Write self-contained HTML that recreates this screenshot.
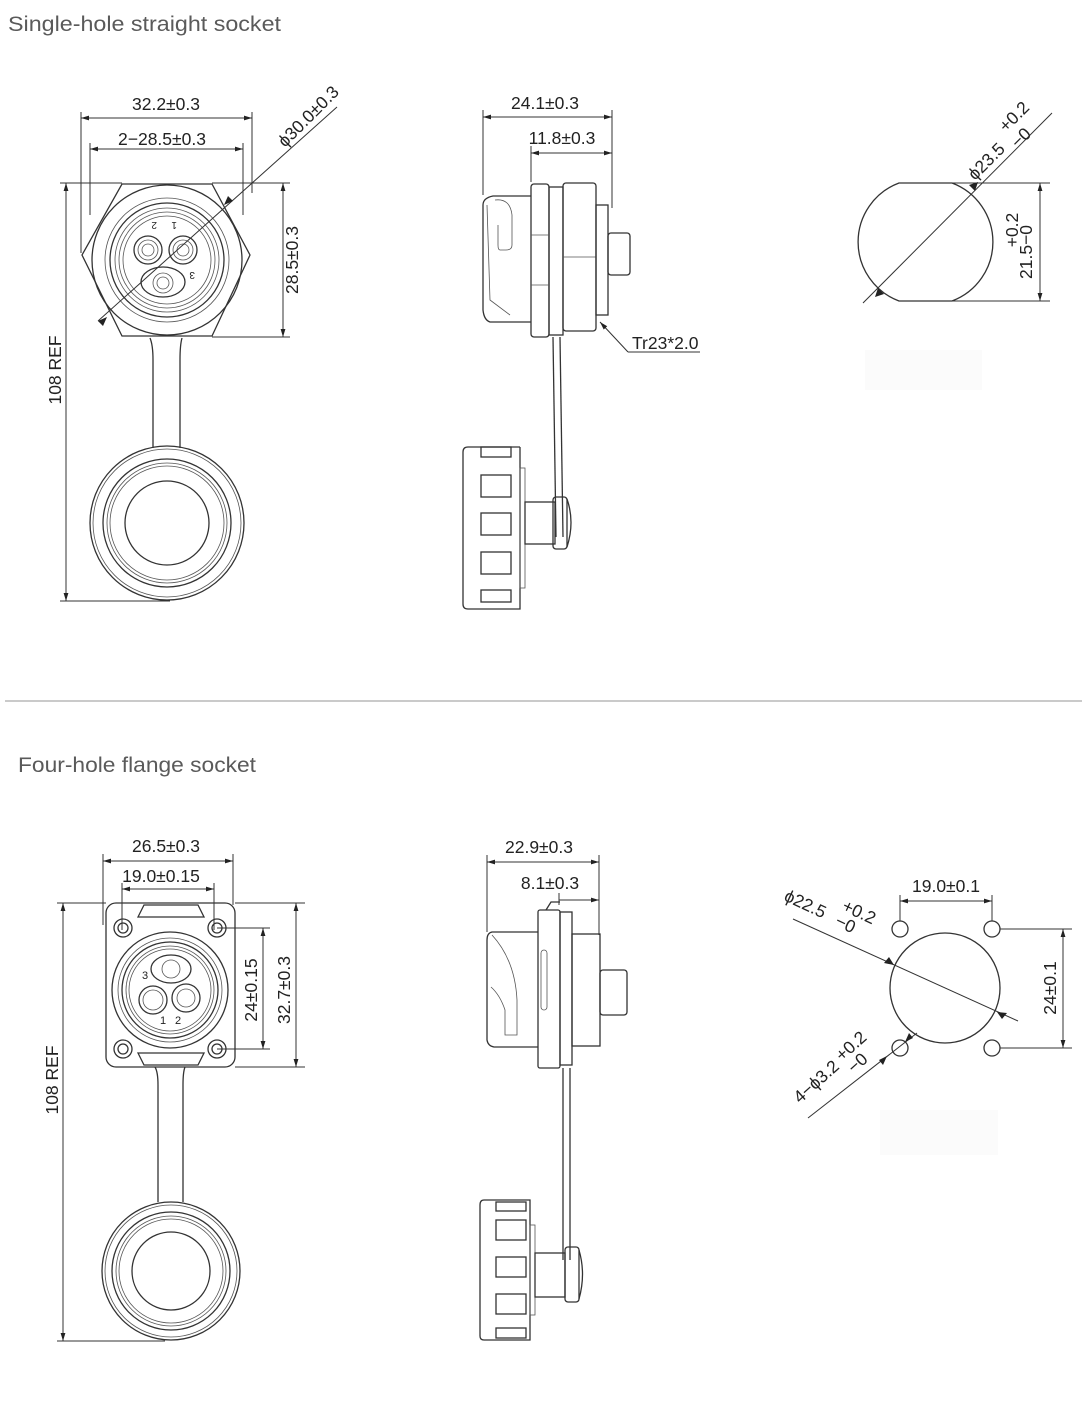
<!DOCTYPE html>
<html><head><meta charset="utf-8"><style>
html,body{margin:0;padding:0;background:#fff;}
svg{display:block;}
text{font-family:"Liberation Sans",sans-serif;fill:#222;}
.t{font-size:17.5px;}
.c{text-anchor:middle;}
.h{font-size:21px;fill:#5a5a5a;}
.d{stroke:#333;stroke-width:1;fill:none;}
.p{stroke:#333;stroke-width:1.3;fill:none;}
.q{stroke:#555;stroke-width:0.8;fill:none;}
</style></head><body>
<svg width="1082" height="1427" viewBox="0 0 1082 1427" xmlns="http://www.w3.org/2000/svg">
<defs>
<marker id="a" viewBox="0 0 10 10" refX="10" refY="5" markerWidth="10" markerHeight="8" orient="auto-start-reverse" markerUnits="userSpaceOnUse">
<path d="M0,2 L10,5 L0,8 z" fill="#222"/></marker>
</defs>

<text class="h" x="8" y="31" textLength="273" lengthAdjust="spacingAndGlyphs">Single-hole straight socket</text>
<line x1="5" y1="701" x2="1082" y2="701" stroke="#aaa" stroke-width="1.2"/>
<text class="h" x="18" y="772" textLength="238" lengthAdjust="spacingAndGlyphs">Four-hole flange socket</text>

<!-- ===== Section 1 front ===== -->
<line class="d" x1="81" y1="112" x2="81" y2="253"/>
<line class="d" x1="252" y1="112" x2="252" y2="193"/>
<line class="d" x1="90" y1="143" x2="90" y2="215"/>
<line class="d" x1="243" y1="143" x2="243" y2="215"/>
<line class="d" x1="81" y1="118" x2="252" y2="118" marker-start="url(#a)" marker-end="url(#a)"/>
<text class="t c" x="166" y="110">32.2±0.3</text>
<line class="d" x1="90" y1="149" x2="243" y2="149" marker-start="url(#a)" marker-end="url(#a)"/>
<text class="t c" x="162" y="145">2−28.5±0.3</text>
<polygon class="p" points="122,184 212,184 250,255 212,336 122,336 82,255"/>
<circle cx="167" cy="260" r="75" fill="#fff" class="p"/>
<circle cx="167" cy="260" r="62" class="q"/>
<circle cx="167" cy="260" r="57" class="p"/>
<circle cx="167" cy="260" r="52" class="q"/>
<circle cx="167" cy="260" r="48" class="q"/>
<circle cx="167" cy="260" r="44" class="q"/>
<circle cx="148" cy="250" r="14" class="p"/><circle cx="148" cy="250" r="10" class="q"/><circle cx="148" cy="250" r="6" class="q"/>
<circle cx="183" cy="250" r="14" class="p"/><circle cx="183" cy="250" r="10" class="q"/><circle cx="183" cy="250" r="6" class="q"/>
<ellipse cx="163" cy="282" rx="22" ry="15" class="p"/><circle cx="163" cy="283" r="10" class="q"/><circle cx="163" cy="283" r="6" class="q"/>
<text x="153" y="228" font-size="10" transform="rotate(180 155 225)">2</text>
<text x="173" y="228" font-size="10" transform="rotate(180 175 225)">1</text>
<text x="191" y="278" font-size="10" transform="rotate(180 193 275)">3</text>
<line class="d" x1="98" y1="321" x2="337" y2="107"/>
<path d="M233,201 l-9,4 l4,-9z M98,321 l9,-4 l-4,9z" fill="#222"/>
<text class="t" transform="translate(285,148) rotate(-45)">ϕ30.0±0.3</text>
<line class="d" x1="212" y1="183" x2="290" y2="183"/>
<line class="d" x1="212" y1="337" x2="290" y2="337"/>
<line class="d" x1="283" y1="183" x2="283" y2="337" marker-start="url(#a)" marker-end="url(#a)"/>
<text class="t c" transform="translate(298,260) rotate(-90)">28.5±0.3</text>
<line class="d" x1="60" y1="183" x2="122" y2="183"/>
<line class="d" x1="60" y1="601" x2="170" y2="601"/>
<line class="d" x1="66" y1="183" x2="66" y2="601" marker-start="url(#a)" marker-end="url(#a)"/>
<text class="t c" transform="translate(61,370) rotate(-90)">108 REF</text>
<path class="p" d="M150,338 Q153,345 153,360 L153,448 M182,338 Q180,345 180,360 L180,448"/>
<circle cx="167" cy="523" r="77" class="p"/>
<circle cx="167" cy="523" r="74" class="q"/>
<circle cx="167" cy="523" r="64" class="p"/>
<circle cx="167" cy="523" r="60" class="q"/>
<circle cx="167" cy="523" r="57" class="q"/>
<circle cx="167" cy="523" r="42" class="p"/>

<!-- ===== Section 1 side ===== -->
<line class="d" x1="483" y1="110" x2="483" y2="195"/>
<line class="d" x1="612" y1="110" x2="612" y2="208"/>
<line class="d" x1="531" y1="146" x2="531" y2="182"/>
<line class="d" x1="483" y1="117" x2="612" y2="117" marker-start="url(#a)" marker-end="url(#a)"/>
<text class="t c" x="545" y="109">24.1±0.3</text>
<line class="d" x1="531" y1="153" x2="612" y2="153" marker-start="url(#a)" marker-end="url(#a)"/>
<text class="t c" x="562" y="144">11.8±0.3</text>
<path class="p" d="M531,196 L493,196 Q483,198 483,205 L483,310 Q484,320 490,322 L531,322"/>
<path class="q" d="M487,205 L490,300 L510,315 M495,200 Q510,198 512,215 L512,245 Q512,250 506,250 L500,250 Q498,250 498,245 L498,225"/>
<rect x="531" y="184" width="18" height="153" rx="3" class="p"/>
<rect x="549" y="187" width="14" height="148" class="p"/>
<rect x="563" y="183" width="33" height="148" rx="3" class="p"/>
<line class="q" x1="563" y1="257" x2="596" y2="257"/>
<line class="q" x1="531" y1="235" x2="549" y2="235"/><line class="q" x1="531" y1="285" x2="549" y2="285"/>
<rect x="596" y="205" width="12" height="110" class="p"/>
<rect x="608" y="233" width="22" height="42" rx="3" class="p"/>
<line class="d" x1="600" y1="322" x2="628" y2="352" marker-start="url(#a)"/>
<line class="d" x1="628" y1="352" x2="700" y2="352"/>
<text class="t" x="632" y="349">Tr23*2.0</text>
<line class="p" x1="553" y1="337" x2="556" y2="537"/>
<line class="p" x1="560" y1="337" x2="563" y2="537"/>
<path class="p" d="M520,447 L468,447 Q463,447 463,452 L463,604 Q463,609 468,609 L520,609 L520,447"/>
<g class="p">
<rect x="481" y="447" width="30" height="10"/>
<rect x="481" y="475" width="30" height="22"/>
<rect x="481" y="513" width="30" height="22"/>
<rect x="481" y="552" width="30" height="22"/>
<rect x="481" y="590" width="30" height="12"/>
</g>
<rect x="520" y="468" width="5" height="120" class="q"/>
<rect x="525" y="502" width="30" height="42" class="p"/>
<rect x="553" y="497" width="14" height="52" rx="3" class="p"/>
<path class="p" d="M567,499 Q575,522 567,547"/>

<!-- ===== Section 1 right ===== -->
<path class="p" d="M899,183 L952,183 A63,63 0 0 1 952,301 L899,301 A63,63 0 0 1 899,183 Z"/>
<line class="d" x1="952" y1="183" x2="1050" y2="183"/>
<line class="d" x1="952" y1="301" x2="1050" y2="301"/>
<line class="d" x1="1040" y1="183" x2="1040" y2="301" marker-start="url(#a)" marker-end="url(#a)"/>
<text class="t c" transform="translate(1032,252) rotate(-90)">21.5−0</text>
<text class="t c" transform="translate(1018,230) rotate(-90)">+0.2</text>
<line class="d" x1="863" y1="303" x2="1052" y2="113"/>
<path d="M878,288 l-3,9 l9,-3z M975,191 l3,-9 l-9,3z" fill="#222"/>
<text class="t" transform="translate(975,181) rotate(-45)">ϕ23.5</text>
<text class="t" transform="translate(1018,149) rotate(-45)">−0</text>
<text class="t" transform="translate(1006,133) rotate(-45)">+0.2</text>
<rect x="865" y="350" width="117" height="40" fill="#fbfbfb"/>

<!-- ===== Section 2 front ===== -->
<line class="d" x1="103" y1="854" x2="103" y2="925"/>
<line class="d" x1="233" y1="854" x2="233" y2="905"/>
<line class="d" x1="122" y1="883" x2="122" y2="930"/>
<line class="d" x1="214" y1="883" x2="214" y2="930"/>
<line class="d" x1="103" y1="861" x2="233" y2="861" marker-start="url(#a)" marker-end="url(#a)"/>
<text class="t c" x="166" y="852">26.5±0.3</text>
<line class="d" x1="122" y1="889" x2="214" y2="889" marker-start="url(#a)" marker-end="url(#a)"/>
<text class="t c" x="161" y="882">19.0±0.15</text>
<rect x="106" y="903" width="129" height="164" rx="10" class="p"/>
<path class="p" d="M138,917 L144,905 L198,905 L204,917 Z"/>
<path class="p" d="M138,1053 L144,1065 L198,1065 L204,1053 Z"/>
<g class="p">
<circle cx="123" cy="928" r="9"/><circle cx="123" cy="928" r="5"/>
<circle cx="217" cy="928" r="9"/><circle cx="217" cy="928" r="5"/>
<circle cx="123" cy="1049" r="9"/><circle cx="123" cy="1049" r="5"/>
<circle cx="217" cy="1049" r="9"/><circle cx="217" cy="1049" r="5"/>
</g>
<circle cx="170" cy="990" r="58" class="p"/>
<circle cx="170" cy="990" r="52" class="q"/>
<circle cx="170" cy="990" r="48" class="p"/>
<circle cx="170" cy="990" r="44" class="q"/>
<circle cx="170" cy="990" r="41" class="q"/>
<ellipse cx="171" cy="969" rx="20" ry="14" class="p"/><circle cx="171" cy="969" r="9" class="q"/>
<circle cx="153" cy="1000" r="14" class="p"/><circle cx="153" cy="1000" r="10" class="q"/>
<circle cx="186" cy="998" r="14" class="p"/><circle cx="186" cy="998" r="9" class="q"/>
<text x="142" y="979" font-size="11">3</text>
<text x="160" y="1024" font-size="11">1</text>
<text x="175" y="1024" font-size="11">2</text>
<line class="d" x1="217" y1="928" x2="270" y2="928"/>
<line class="d" x1="217" y1="1049" x2="270" y2="1049"/>
<line class="d" x1="263" y1="928" x2="263" y2="1049" marker-start="url(#a)" marker-end="url(#a)"/>
<text class="t c" transform="translate(257,990) rotate(-90)">24±0.15</text>
<line class="d" x1="235" y1="903" x2="305" y2="903"/>
<line class="d" x1="235" y1="1067" x2="305" y2="1067"/>
<line class="d" x1="296" y1="903" x2="296" y2="1067" marker-start="url(#a)" marker-end="url(#a)"/>
<text class="t c" transform="translate(290,990) rotate(-90)">32.7±0.3</text>
<line class="d" x1="57" y1="903" x2="106" y2="903"/>
<line class="d" x1="57" y1="1341" x2="165" y2="1341"/>
<line class="d" x1="63" y1="903" x2="63" y2="1341" marker-start="url(#a)" marker-end="url(#a)"/>
<text class="t c" transform="translate(58,1080) rotate(-90)">108 REF</text>
<path class="p" d="M155,1067 Q158,1072 158,1085 L158,1202 M185,1067 Q183,1072 183,1085 L183,1202"/>
<circle cx="171" cy="1271" r="69" class="p"/>
<circle cx="171" cy="1271" r="66" class="q"/>
<circle cx="171" cy="1271" r="59" class="p"/>
<circle cx="171" cy="1271" r="55" class="q"/>
<circle cx="171" cy="1271" r="52" class="q"/>
<circle cx="171" cy="1271" r="39" class="p"/>

<!-- ===== Section 2 side ===== -->
<line class="d" x1="487" y1="855" x2="487" y2="932"/>
<line class="d" x1="599" y1="855" x2="599" y2="935"/>
<line class="d" x1="559" y1="893" x2="559" y2="905"/>
<line class="d" x1="487" y1="862" x2="599" y2="862" marker-start="url(#a)" marker-end="url(#a)"/>
<text class="t c" x="539" y="853">22.9±0.3</text>
<line class="d" x1="559" y1="900" x2="599" y2="900" marker-end="url(#a)"/>
<text class="t c" x="550" y="889">8.1±0.3</text>
<path class="p" d="M538,932 L492,932 Q487,933 487,940 L487,1040 Q488,1046 494,1047 L538,1047"/>
<path class="q" d="M492,935 Q515,960 517,1000 L517,1035 L505,1035 L505,1010 Q500,995 491,987"/>
<rect x="538" y="910" width="22" height="158" rx="2" class="p"/>
<path class="p" d="M546,910 L551,902 L560,902"/>
<rect x="541" y="950" width="6" height="60" rx="3" class="q"/>
<rect x="560" y="912" width="12" height="153" class="p"/>
<rect x="572" y="934" width="28" height="112" class="p"/>
<rect x="600" y="970" width="27" height="45" rx="3" class="p"/>
<line class="p" x1="563" y1="1068" x2="563" y2="1260"/>
<line class="p" x1="570" y1="1068" x2="570" y2="1260"/>
<path class="p" d="M530,1200 L484,1200 Q480,1200 480,1205 L480,1336 Q480,1340 484,1340 L530,1340 Z"/>
<g class="p">
<rect x="496" y="1202" width="30" height="9"/>
<rect x="496" y="1220" width="30" height="20"/>
<rect x="496" y="1257" width="30" height="20"/>
<rect x="496" y="1294" width="30" height="20"/>
<rect x="496" y="1328" width="30" height="10"/>
</g>
<rect x="530" y="1225" width="5" height="90" class="q"/>
<rect x="535" y="1253" width="30" height="44" class="p"/>
<rect x="565" y="1247" width="14" height="55" rx="3" class="p"/>
<path class="p" d="M579,1250 Q586,1274 579,1299"/>

<!-- ===== Section 2 right ===== -->
<circle cx="945" cy="988" r="55" class="p"/>
<g class="p">
<circle cx="900" cy="929" r="8"/><circle cx="992" cy="929" r="8"/>
<circle cx="900" cy="1048" r="8"/><circle cx="992" cy="1048" r="8"/>
</g>
<line class="d" x1="900" y1="895" x2="900" y2="921"/>
<line class="d" x1="992" y1="895" x2="992" y2="921"/>
<line class="d" x1="900" y1="901" x2="992" y2="901" marker-start="url(#a)" marker-end="url(#a)"/>
<text class="t c" x="946" y="892">19.0±0.1</text>
<line class="d" x1="1000" y1="929" x2="1072" y2="929"/>
<line class="d" x1="1000" y1="1048" x2="1072" y2="1048"/>
<line class="d" x1="1063" y1="929" x2="1063" y2="1048" marker-start="url(#a)" marker-end="url(#a)"/>
<text class="t c" transform="translate(1056,988) rotate(-90)">24±0.1</text>
<line class="d" x1="793" y1="919" x2="1018" y2="1021"/>
<path d="M894,965 l-10,-2 l5,-6z M997,1012 l10,1 l-5,6z" fill="#222"/>
<text class="t" transform="translate(783,900) rotate(25)">ϕ22.5</text>
<text class="t" transform="translate(841,910) rotate(25)">+0.2</text>
<text class="t" transform="translate(834,925) rotate(25)">−0</text>
<line class="d" x1="808" y1="1118" x2="917" y2="1033"/>
<path d="M905,1042 l4,-9 l4,5z M887,1056 l-4,9 l-4,-5z" fill="#222"/>
<text class="t" transform="translate(800,1104) rotate(-42)">4−ϕ3.2</text>
<text class="t" transform="translate(842,1062) rotate(-42)">+0.2</text>
<text class="t" transform="translate(854,1074) rotate(-42)">−0</text>
<rect x="880" y="1110" width="118" height="45" fill="#fbfbfb"/>
</svg>
</body></html>
